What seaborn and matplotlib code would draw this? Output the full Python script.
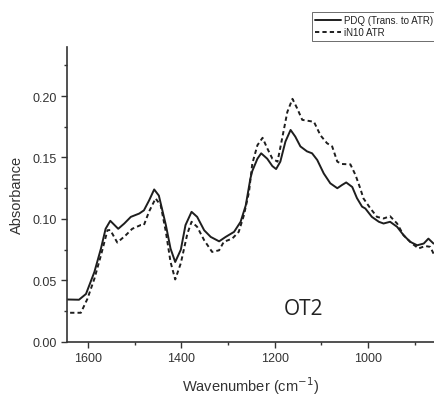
import numpy as np
import pandas as pd
import matplotlib
matplotlib.use("Agg")
import matplotlib.pyplot as plt
import seaborn as sns
from matplotlib.ticker import MultipleLocator, FormatStrFormatter

sns.set_style("ticks")
plt.rcParams['font.family'] = ['Liberation Sans', 'DejaVu Sans']

# Data
pdq_wn = [1645, 1619, 1604, 1586, 1572, 1562, 1552, 1535, 1522, 1508, 1490, 1480, 1469, 1458,
          1448, 1433, 1423, 1413, 1401, 1391, 1378, 1366, 1351, 1337, 1319, 1305, 1287, 1273,
          1262, 1252, 1248, 1237, 1229, 1216, 1205, 1197, 1188, 1177, 1166, 1156, 1145, 1131,
          1120, 1109, 1095, 1081, 1066, 1056, 1047, 1034, 1024, 1013, 1006, 992, 977, 967,
          953, 938, 924, 910, 895, 881, 871, 860]
pdq_abs = [0.0345, 0.0343, 0.039, 0.0569, 0.0759, 0.092, 0.0985, 0.092, 0.0963, 0.1017, 0.1044,
           0.107, 0.115, 0.124, 0.119, 0.095, 0.0759, 0.065, 0.075, 0.095, 0.1058, 0.1017,
           0.0908, 0.0854, 0.0818, 0.0854, 0.0895, 0.0977, 0.111, 0.133, 0.139, 0.149, 0.1534,
           0.149, 0.143, 0.1406, 0.1466, 0.163, 0.1724, 0.167, 0.159, 0.155, 0.1534, 0.148,
           0.137, 0.129, 0.125, 0.1276, 0.1297, 0.126, 0.117, 0.110, 0.1085, 0.1017, 0.0977,
           0.0963, 0.0977, 0.0936, 0.0867, 0.0814, 0.0786, 0.080, 0.084, 0.080]

in10_wn = [1645, 1615, 1601, 1586, 1572, 1558, 1552, 1537, 1519, 1505, 1487, 1480, 1469, 1455,
           1444, 1433, 1423, 1413, 1401, 1387, 1378, 1366, 1351, 1334, 1319, 1309, 1291, 1277,
           1266, 1255, 1248, 1237, 1226, 1216, 1205, 1194, 1184, 1173, 1162, 1152, 1141, 1131,
           1116, 1102, 1088, 1077, 1066, 1056, 1038, 1027, 1017, 1010, 995, 981, 967, 953,
           938, 924, 906, 892, 878, 867, 860]
in10_abs = [0.0237, 0.0237, 0.035, 0.0514, 0.0704, 0.0908, 0.091, 0.0808, 0.0867, 0.092, 0.095,
            0.095, 0.106, 0.1167, 0.111, 0.0895, 0.065, 0.0508, 0.064, 0.088, 0.0977, 0.0936,
            0.0827, 0.0732, 0.0745, 0.0814, 0.084, 0.0895, 0.103, 0.122, 0.145, 0.160, 0.166,
            0.1575, 0.149, 0.1466, 0.1657, 0.187, 0.1977, 0.190, 0.1806, 0.180, 0.179, 0.168,
            0.1616, 0.159, 0.1466, 0.1447, 0.1444, 0.1357, 0.125, 0.1167, 0.1085, 0.1017,
            0.1004, 0.1022, 0.0963, 0.0867, 0.080, 0.076, 0.078, 0.0773, 0.0718]

series_names = ["PDQ (Trans. to ATR)", "iN10 ATR"]

df = pd.concat([
    pd.DataFrame({"Wavenumber": pdq_wn, "Absorbance": pdq_abs, "Series": series_names[0]}),
    pd.DataFrame({"Wavenumber": in10_wn, "Absorbance": in10_abs, "Series": series_names[1]}),
])

fig = plt.figure(figsize=(4.34, 4.02), dpi=100)
ax = fig.add_axes([0.154, 0.147, 0.846, 0.734])

sns.lineplot(data=df, x="Wavenumber", y="Absorbance", style="Series",
             dashes={series_names[0]: "", series_names[1]: (2.2, 1.6)},
             color="#1e1e1e", linewidth=1.4, ax=ax, legend=True)

ax.set_xlim(1645, 859)
ax.set_ylim(0, 0.24)
ax.xaxis.set_major_locator(MultipleLocator(200))
ax.xaxis.set_minor_locator(MultipleLocator(100))
ax.yaxis.set_major_locator(MultipleLocator(0.05))
ax.yaxis.set_minor_locator(MultipleLocator(0.025))
ax.yaxis.set_major_formatter(FormatStrFormatter('%.2f'))

for side in ["top", "right"]:
    ax.spines[side].set_visible(False)
for side in ["left", "bottom"]:
    ax.spines[side].set_color("#333333")
    ax.spines[side].set_linewidth(1.2)

ax.tick_params(axis="both", which="major", length=4, width=1.0, color="#333333",
               labelsize=9, labelcolor="#333333", direction="out")
ax.tick_params(axis="both", which="minor", length=2.5, width=1.0, color="#333333",
               direction="out")

ax.set_xlabel("Wavenumber (cm$^{-1}$)", fontsize=10.5, color="#333333", labelpad=7)
ax.set_ylabel("Absorbance", fontsize=10.5, color="#333333", labelpad=6)

ax.text(1138, 0.027, "OT2", fontsize=15, ha="center", va="center",
        family=["Open Sans", "DejaVu Sans"], color="#222222")

handles, labels = ax.get_legend_handles_labels()
ax.legend(handles, labels, loc="upper right", bbox_to_anchor=(1.005, 0.968),
          bbox_transform=fig.transFigure, fontsize=7, frameon=True, fancybox=False,
          edgecolor="#555555", framealpha=1, handlelength=2.6, handletextpad=0.3,
          borderpad=0.35, labelspacing=0.2, borderaxespad=0)
leg = ax.get_legend()
leg.get_frame().set_linewidth(0.6)
for t in leg.get_texts():
    t.set_color("#222222")

fig.savefig("out.png", dpi=100)
